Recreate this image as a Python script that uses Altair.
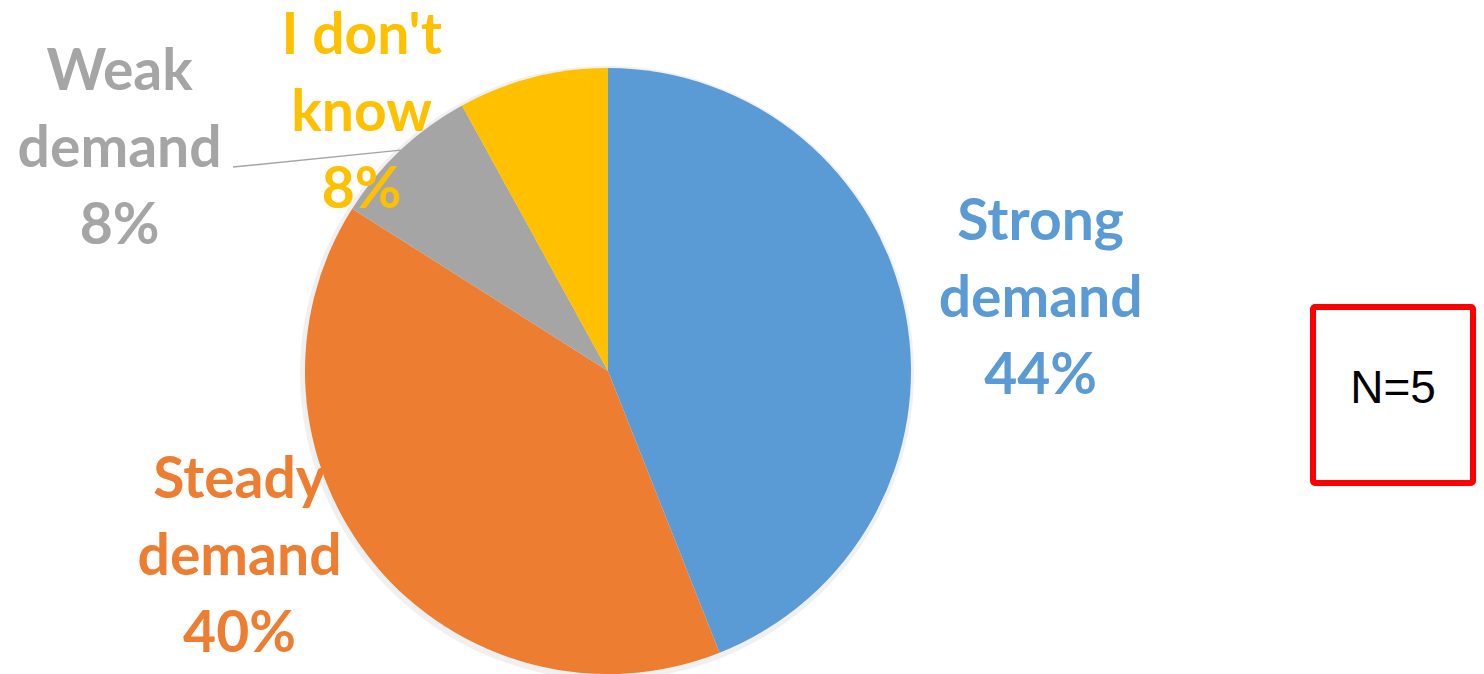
import math
import altair as alt
import pandas as pd

# ---- data ----
categories = ["Strong demand", "Steady demand", "Weak demand", "I don't know"]
values = [44, 40, 8, 8]
label_names = ["Strong\ndemand", "Steady\ndemand", "Weak\ndemand", "I don't\nknow"]
slice_order = [1, 2, 3, 4]
colors = ["#5B9BD5", "#ED7D31", "#A5A5A5", "#FFC000"]
n_label = ["N=5"]

df = pd.DataFrame({"category": categories, "value": values,
                   "name": label_names, "order": slice_order})

# ---- layout / style ----
W, H = 1468, 666
CX, CY, R = 600, 363, 303
label_offsets = {  # dx, dy of each label block from the slice mid-point on the rim
    "Strong demand": (135, -91),
    "Steady demand": (-135, -83),
    "Weak demand": (-281, -77),
    "I don't know": (-171, -41),
}
color_scale = alt.Scale(domain=categories, range=colors)
theta_scale = alt.Scale(domain=[0, sum(values)], range=[0, 2 * math.pi])

base = alt.Chart(df).transform_window(
    cum="sum(value)", sort=[alt.SortField("order")]
).transform_calculate(
    start="datum.cum - datum.value",
    mid="datum.cum - datum.value / 2",
    label='datum.name + "\\n" + datum.value + "%"',
)

shadow = base.mark_arc(outerRadius=R + 4, color="#000000", opacity=0.06).encode(
    theta=alt.Theta("start:Q", scale=theta_scale),
    theta2="cum:Q",
    x=alt.value(CX - 1), y=alt.value(CY + 2),
)

pie = base.mark_arc(outerRadius=R).encode(
    theta=alt.Theta("start:Q", scale=theta_scale),
    theta2="cum:Q",
    color=alt.Color("category:N", scale=color_scale, legend=None),
    x=alt.value(CX), y=alt.value(CY),
)

layers = [shadow, pie]
for cat in categories:
    dx, dy = label_offsets[cat]
    layers.append(
        base.transform_filter(alt.datum.category == cat).mark_text(
            font="Lato", fontWeight="bold", fontSize=57, lineHeight=77,
            lineBreak="\n", align="center", baseline="middle",
            dx=dx, dy=dy, radius=R,
        ).encode(
            theta=alt.Theta("mid:Q", scale=theta_scale),
            text="label:N",
            color=alt.Color("category:N", scale=color_scale, legend=None),
            x=alt.value(CX), y=alt.value(CY),
        )
    )

# leader line for "Weak demand": from the label to the slice mid-point on the rim
weak_i = categories.index("Weak demand")
weak_mid = sum(values[:weak_i]) + values[weak_i] / 2
ang = weak_mid / sum(values) * 2 * math.pi
end_x, end_y = CX + R * math.sin(ang), CY - R * math.cos(ang)
leader = alt.Chart(pd.DataFrame({"k": [0]})).mark_rule(
    color="#A5A5A5", strokeWidth=1.5
).encode(
    x=alt.value(225), y=alt.value(159), x2=alt.value(end_x), y2=alt.value(end_y)
)
layers.append(leader)

nd = pd.DataFrame({"t": n_label})
box = alt.Chart(nd).mark_rect(
    fill="white", stroke="#FF0000", strokeWidth=6, cornerRadius=2
).encode(
    x=alt.value(1305), x2=alt.value(1465), y=alt.value(299), y2=alt.value(475)
)
ntext = alt.Chart(nd).mark_text(
    font="Liberation Sans", fontSize=46, align="center", baseline="alphabetic", color="black"
).encode(text="t:N", x=alt.value(1385), y=alt.value(395))
layers += [box, ntext]

chart = alt.layer(*layers).properties(
    width=W, height=H, autosize=alt.AutoSizeParams(type="none"), padding=0,
    background="white",
).configure_view(stroke=None)

chart.save("out.html", embed_options={"renderer": "svg", "actions": False})
